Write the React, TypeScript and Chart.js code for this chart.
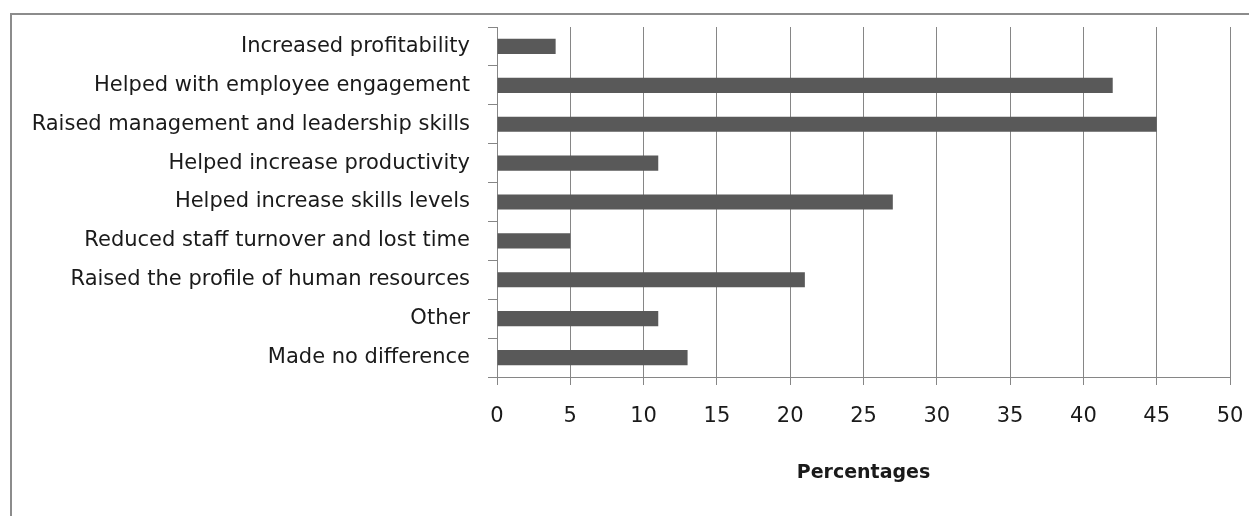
import React, { useEffect, useRef } from "react";
import { Chart, registerables } from "chart.js";

Chart.register(...registerables);

const categories = [
  "Increased profitability",
  "Helped with employee engagement",
  "Raised management and leadership skills",
  "Helped increase productivity",
  "Helped increase skills levels",
  "Reduced staff turnover and lost time",
  "Raised the profile of human resources",
  "Other",
  "Made no difference",
];
const percentages = [4, 42, 45, 11, 27, 5, 21, 11, 13];
const xTicks = [0, 5, 10, 15, 20, 25, 30, 35, 40, 45, 50];
const xTitle = "Percentages";

const FONT = "'DejaVu Sans'";
const GRID = "#868686";

export default function App() {
  const ref = useRef<HTMLCanvasElement | null>(null);
  useEffect(() => {
    document.body.style.margin = "0";
    const canvas = ref.current!;
    const chart = new Chart(canvas, {
      type: "bar",
      data: {
        labels: categories,
        datasets: [
          {
            data: percentages,
            backgroundColor: "#595959",
            borderWidth: 0,
            barPercentage: 0.39,
            categoryPercentage: 1,
          },
        ],
      },
      options: {
        indexAxis: "y",
        animation: false,
        responsive: false,
        events: [],
        layout: { padding: { left: 12, top: 27, right: 19, bottom: 0 } },
        plugins: { legend: { display: false }, tooltip: { enabled: false } },
        scales: {
          x: {
            min: 0,
            max: 50,
            afterBuildTicks: (s: any) => {
              s.ticks = xTicks.map((v) => ({ value: v }));
            },
            afterFit: (s: any) => {
              s.height = 139;
              s.paddingRight = 0;
              s.paddingLeft = 0;
            },
            grid: { color: GRID, lineWidth: 1, tickLength: 8, drawTicks: true },
            border: { color: GRID, width: 1 },
            ticks: {
              color: "#1a1a1a",
              font: { family: FONT, size: 21 },
              padding: 19,
              maxRotation: 0,
            },
            title: {
              display: true,
              text: xTitle,
              color: "#1a1a1a",
              font: { family: FONT, size: 19, weight: "bold" },
              padding: { top: 0, bottom: 32 },
            },
          },
          y: {
            afterFit: (s: any) => {
              s.width = 497 - 12;
              s.paddingTop = 0;
              s.paddingBottom = 0;
            },
            grid: { drawOnChartArea: false, color: GRID, tickLength: 9, offset: true },
            border: { color: GRID, width: 1 },
            ticks: {
              color: "#1a1a1a",
              font: { family: FONT, size: 21 },
              padding: 18,
              autoSkip: false,
            },
          },
        },
      },
    });
    return () => chart.destroy();
  }, []);
  return (
    <div style={{ position: "fixed", left: 0, top: 0, width: 1249, height: 516, background: "#fff" }}>
      <canvas ref={ref} width={1249} height={516} style={{ position: "absolute", left: 0, top: 0 }} />
      <div
        style={{
          position: "absolute",
          left: 10,
          top: 13,
          width: 1260,
          height: 520,
          borderLeft: "2px solid #8c8c8c",
          borderTop: "2px solid #8c8c8c",
          pointerEvents: "none",
        }}
      />
    </div>
  );
}
